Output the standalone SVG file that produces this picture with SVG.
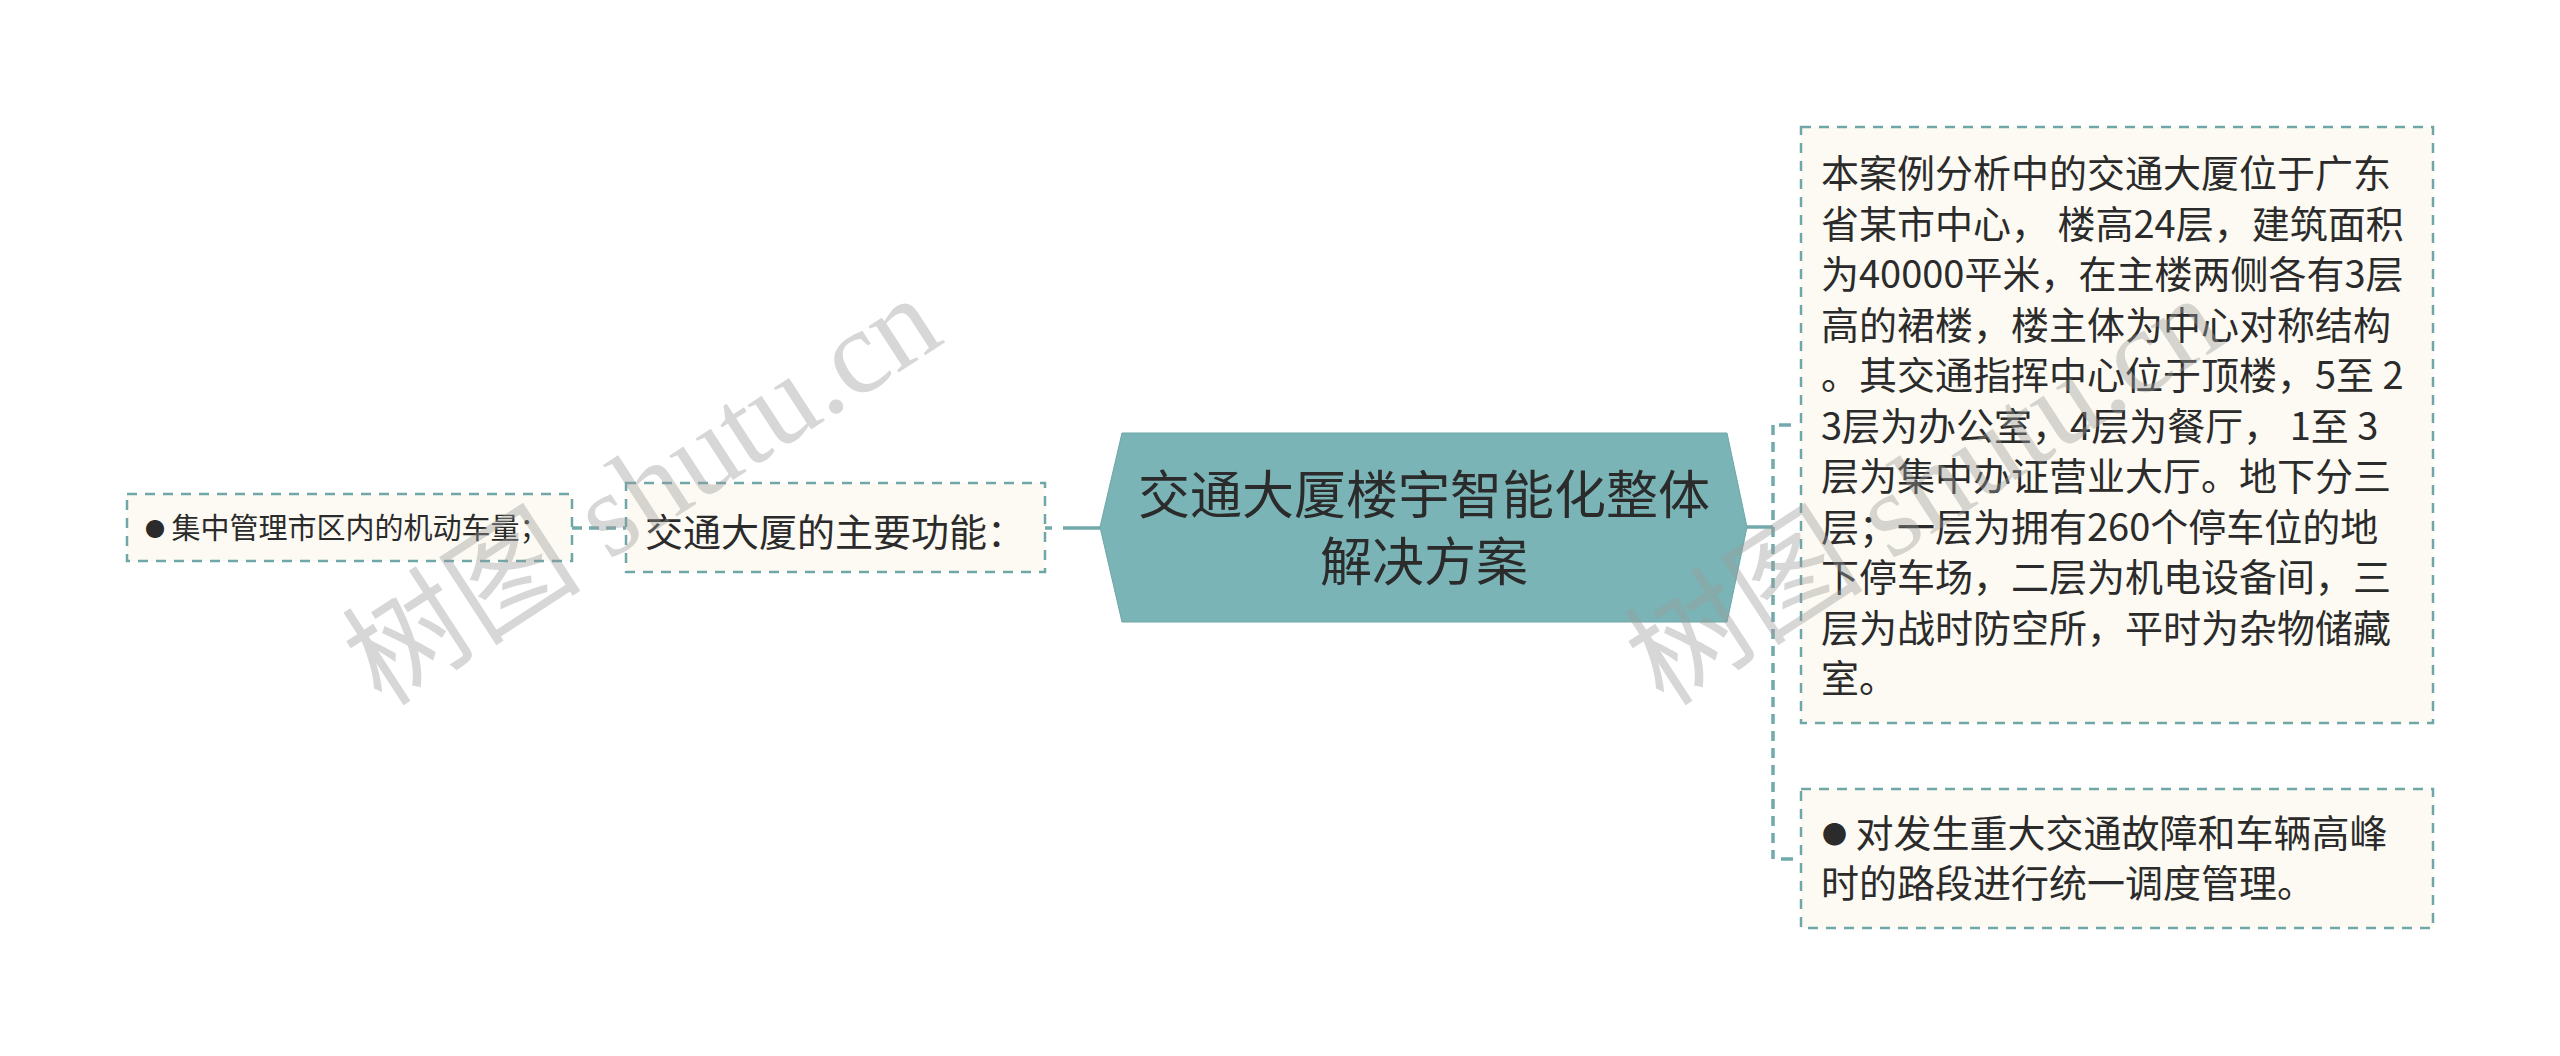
<svg xmlns="http://www.w3.org/2000/svg" width="2560" height="1056" viewBox="0 0 2560 1056">
<style>
.box{fill:#FCFAF2;stroke:#6FA6A8;stroke-width:2.5;stroke-dasharray:10 8}
.t{font-family:"Noto Sans CJK SC","Liberation Sans",sans-serif;fill:#2B2B2B}
.conn{fill:none;stroke:#72AAAC;stroke-width:3.5}
.dash{stroke-dasharray:10 7}
.wm{font-family:"Liberation Serif","Noto Sans CJK SC",serif;font-size:120px;fill:#9A9A9A;fill-opacity:0.4}
</style>
<rect width="2560" height="1056" fill="#FFFFFF"/>
<g id="connectors">
<path class="conn dash" d="M572 528 H626"/>
<path class="conn" d="M1045 528 H1100" stroke-dasharray="7 11 40"/>
<path class="conn" d="M1747 527 H1773"/>
<path class="conn dash" d="M1773 425 V859" stroke-width="3"/>
<path class="conn" d="M1779 425 H1791 M1781 859 H1793" stroke-width="3"/>
</g>
<g id="center">
<polygon points="1122,433 1727,433 1747,527 1727,622 1122,622 1100,527" fill="#7AB4B6" stroke="#6FA6A8" stroke-width="1"/>
<text class="t" font-size="52" text-anchor="middle" x="1424" y="514">交通大厦楼宇智能化整体</text>
<text class="t" font-size="52" text-anchor="middle" x="1424" y="581">解决方案</text>
</g>
<g id="sub-left">
<rect class="box" x="626" y="483" width="419" height="89"/>
<text class="t" font-size="38" x="645" y="546">交通大厦的主要功能：</text>
</g>
<g id="leaf-left">
<rect class="box" x="127" y="494" width="445" height="67"/>
<text class="t" font-size="29" x="145" y="539"><tspan font-size="20" dy="-2">●</tspan><tspan dy="2"> 集中管理市区内的机动车量；</tspan></text>
</g>
<g id="right-1">
<rect class="box" x="1801" y="127" width="632" height="596"/>
<text class="t" font-size="38" x="1821">
<tspan x="1821" y="187">本案例分析中的交通大厦位于广东</tspan>
<tspan x="1821" y="237.5">省某市中心， 楼高24层，建筑面积</tspan>
<tspan x="1821" y="288">为40000平米，在主楼两侧各有3层</tspan>
<tspan x="1821" y="338.5">高的裙楼，楼主体为中心对称结构</tspan>
<tspan x="1821" y="389">。其交通指挥中心位于顶楼，5至 2</tspan>
<tspan x="1821" y="439.5">3层为办公室，4层为餐厅， 1至 3</tspan>
<tspan x="1821" y="490">层为集中办证营业大厅。地下分三</tspan>
<tspan x="1821" y="540.5">层；一层为拥有260个停车位的地</tspan>
<tspan x="1821" y="591">下停车场，二层为机电设备间，三</tspan>
<tspan x="1821" y="641.5">层为战时防空所，平时为杂物储藏</tspan>
<tspan x="1821" y="692">室。</tspan>
</text>
</g>
<g id="right-2">
<rect class="box" x="1801" y="789" width="632" height="139"/>
<text class="t" font-size="38">
<tspan x="1822" y="844" font-size="25">●</tspan><tspan y="847"> 对发生重大交通故障和车辆高峰</tspan>
<tspan x="1821" y="897">时的路段进行统一调度管理。</tspan>
</text>
</g>
<g id="watermarks">
<text class="wm" transform="translate(382,708) rotate(-33)">树图 shutu.cn</text>
<text class="wm" transform="translate(1664,708) rotate(-33)">树图 shutu.cn</text>
</g>
</svg>
